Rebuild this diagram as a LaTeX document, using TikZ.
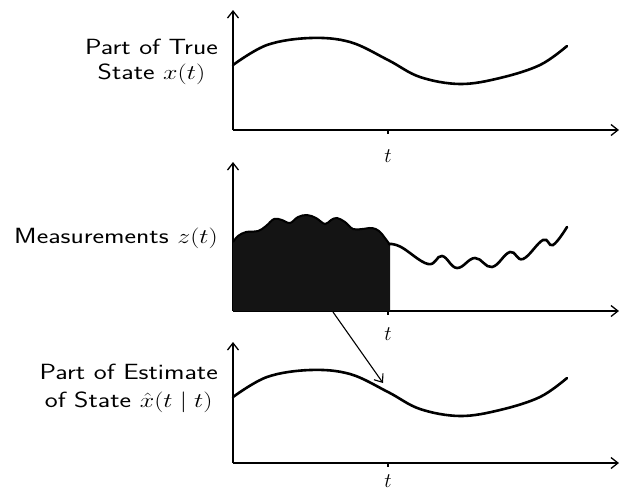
\documentclass[tikz,border=0pt]{standalone}
\usepackage{amsmath}
\usetikzlibrary{arrows.meta}
\newcommand{\widetxt}[1]{\scalebox{1.25}[1]{#1}}

\begin{document}
\begin{tikzpicture}[x=1pt, y=-1pt, >={Straight Barb[length=7pt, width=11pt]},
    axis/.style={line width=1.3pt, ->},
    signal/.style={line width=2.6pt, line cap=round},
    lbl/.style={font=\sffamily\fontsize{22}{25}\selectfont, align=center, anchor=east, inner sep=0pt},
    tlbl/.style={font=\fontsize{22}{24}\selectfont, inner sep=0pt}]
    \useasboundingbox (0,0) rectangle (621,491);

    % Draw axes
    \foreach \n/\ya/\yt/\yl in {1/130/10/156, 2/311/162/334, 3/463/342/481} {
        \coordinate (o\n) at (233,\ya);
        \coordinate (ytop\n) at (233,\yt);
        \coordinate (xend\n) at (619,\ya);
        \coordinate (tick\n) at (388,\ya);
        \draw[axis] (o\n) -- (ytop\n);
        \draw[axis] (o\n) -- (xend\n);
        \draw[line width=1.3pt] (tick\n) -- ++(0,4);
        \node[tlbl] (t\n) at (388,\yl) {$t$};
    }

    % Draw labels
    \node[lbl] (truelbl) at (218,62) {\widetxt{Part of True}\\\widetxt{State $x(t)$}};
    \node[lbl] (measlbl) at (218,238) {\widetxt{Measurements $z(t)$}};
    \node[lbl] (estlbl) at (218,388) {\widetxt{Part of Estimate}\\[3pt]\widetxt{of State $\hat{x}(t \mid t)$}};

    % Draw true state and estimate
    \foreach \dy in {0,332} {
        \begin{scope}[shift={(0,\dy)}]
            \draw[signal] plot[smooth, tension=0.6] coordinates {(233,65) (267,45) (310,38) (350,42) (388,60) (420,77) (460,84) (500,78) (540,65) (567,46)};
        \end{scope}
    }

    % Draw measurements up to t
    \fill[black!92] (233,311) -- plot[smooth, tension=0.6] coordinates {(233,242) (238,236) (246,232) (258,231) (266,226) (274,219) (282,220) (290,223) (298,217) (307,215) (316,218) (325,224) (331,220) (337,218) (345,222) (353,229) (362,229) (372,228) (379,231) (385,238) (390,245)} -- (390,311) -- cycle;
    \draw[line width=2pt] plot[smooth, tension=0.6] coordinates {(233,242) (238,236) (246,232) (258,231) (266,226) (274,219) (282,220) (290,223) (298,217) (307,215) (316,218) (325,224) (331,220) (337,218) (345,222) (353,229) (362,229) (372,228) (379,231) (385,238) (390,245)};

    % Draw measurements after t
    \draw[signal] plot[smooth, tension=0.7] coordinates {(389,244) (401,247) (428,264) (442,256) (457,268) (475,258) (492,267) (510,252) (523,259) (543,240) (553,245) (567,227)};

    % Draw connection to estimate
    \coordinate (src) at (333,312);
    \coordinate (dst) at (383,383);
    \draw[line width=1.1pt, ->] (src) -- (dst);
\end{tikzpicture}
\end{document}
